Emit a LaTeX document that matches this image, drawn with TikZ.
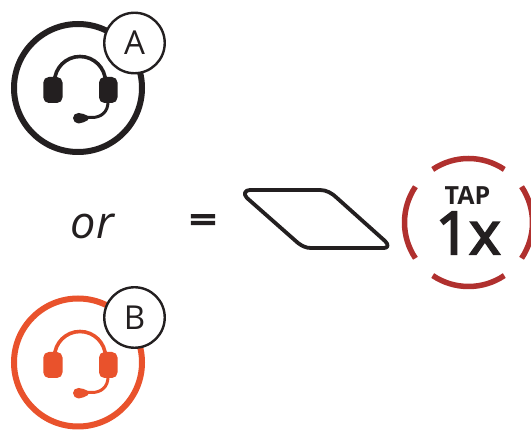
\documentclass[tikz,border=0pt]{standalone}
\usepackage{fontspec}
\setmainfont{Open Sans}
\newfontfamily\semib[FakeBold=3.5]{Open Sans}
\newfontfamily\heavyeq[FakeBold=6]{Open Sans}
\definecolor{ink}{HTML}{231F20}
\definecolor{orng}{HTML}{E9522C}
\definecolor{tapred}{HTML}{B0302E}
\tikzset{
  x=1pt,y=-1pt,
  ring/.style={circle,draw=#1,line width=6pt,minimum size=128pt,inner sep=0pt,fill=white},
  badge/.style={circle,draw=ink,line width=2.4pt,minimum size=60.5pt,inner sep=0pt,fill=white,text=ink,font=\fontsize{33}{33}\selectfont},
  label/.style={text=ink,inner sep=0pt,anchor=base},
  taparc/.style={draw=tapred,line width=5.5pt},
}
\newcommand{\headset}[2]{% colour, y offset
  \begin{scope}[yshift=-#2pt]
    \draw[#1,line width=3.6pt] (54.5,82) arc[start angle=180,end angle=0,radius=25.5pt];
    \fill[#1,rounded corners=5.5pt] (43.3,77) rectangle (62.5,103);
    \fill[#1,rounded corners=5.5pt] (99,77) rectangle (117.5,103);
    \draw[#1,line width=3pt] (108,102) .. controls (108,112) and (101,117.5) .. (92,117.5) -- (84,117.5);
    \fill[#1] (73,118) .. controls (73,115) and (75.5,113) .. (78.5,113) .. controls (82,113) and (85,114.5) .. (88,116) -- (88,120) .. controls (85,121.5) and (82,123.5) .. (78.5,123.5) .. controls (75.5,123.5) and (73,121) .. (73,118) -- cycle;
  \end{scope}
}
\begin{document}
\begin{tikzpicture}
\useasboundingbox (0,0) rectangle (531,430);
\node[ring=ink] (ringA) at (78,88) {};
\headset{ink}{0}
\node[badge] (badgeA) at (134.5,43) {A};
\node[ring=orng] (ringB) at (78,362.5) {};
\headset{orng}{275}
\node[badge] (badgeB) at (134.5,317.5) {B};
\node[label,font=\itshape\fontsize{45}{45}\selectfont] (or) at (92.5,238.5) {or};
\node[label,font=\heavyeq\fontsize{47}{47}\selectfont,yscale=0.72,transform shape] (eq) at (203,231.5) {=};
\draw[ink,line width=3.8pt,line join=round,fill=white]
  (250,190) -- (320,190) .. controls (326,190) and (332,193) .. (337,198) -- (385,241)
  .. controls (389,245) and (388,248) .. (384,248) -- (311,248)
  .. controls (306,248) and (302,246) .. (298,243) -- (247,198)
  .. controls (243,194) and (245,190) .. (250,190) -- cycle;
\coordinate (tapc) at (468.5,222.5);
\begin{scope}
\clip (0,0) rectangle (531,430);
\draw[taparc] ([shift={(tapc)}]56:64pt) arc[start angle=56,end angle=124,radius=64pt];
\draw[taparc] ([shift={(tapc)}]146:64pt) arc[start angle=146,end angle=214,radius=64pt];
\draw[taparc] ([shift={(tapc)}]236:64pt) arc[start angle=236,end angle=304,radius=64pt];
\draw[taparc] ([shift={(tapc)}]326:64pt) arc[start angle=326,end angle=394,radius=64pt];
\end{scope}
\node[label,font=\bfseries\fontsize{25}{25}\selectfont] (tap) at (467.5,205) {TAP};
\node[label,font=\semib\fontsize{59}{59}\selectfont] (onex) at (468,254) {1x};
\end{tikzpicture}
\end{document}
